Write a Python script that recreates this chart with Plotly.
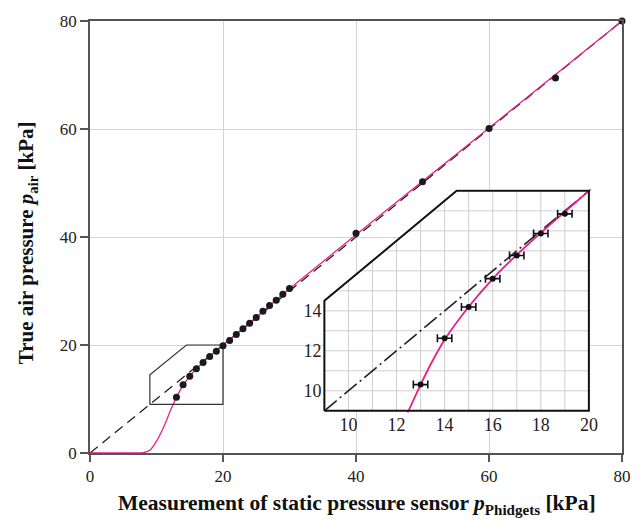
import plotly.graph_objects as go

# ---- data ----
meas_x = [13, 14, 15, 16, 17, 18, 19, 20, 21, 22, 23, 24, 25, 26, 27, 28, 29, 30, 40, 50, 60, 70, 80]
true_y = [10.31, 12.63, 14.19, 15.61, 16.77, 17.87, 18.85, 19.85, 20.85, 21.95, 23.0, 24.05,
          25.1, 26.25, 27.3, 28.3, 29.4, 30.45, 40.7, 50.25, 60.1, 69.45, 80.0]

inset_x = [13, 14, 15, 16, 17, 18, 19]
inset_y = [10.31, 12.63, 14.19, 15.61, 16.77, 17.87, 18.85]
inset_err = [0.3, 0.3, 0.3, 0.3, 0.3, 0.3, 0.3]

fit_x = [0, 7, 8, 9, 10, 11, 11.5, 12, 12.5, 13, 13.5, 14, 15, 16, 17, 18, 19, 20,
         22, 25, 30, 40, 50, 60, 70, 80]
fit_y = [0, 0, 0.05, 0.5, 2.2, 4.6, 6.0, 7.6, 9.0, 10.3, 11.5, 12.55, 14.2, 15.6, 16.8,
         17.9, 18.95, 20.0, 22.05, 25.15, 30.4, 40.4, 50.3, 60.2, 70.1, 80.0]

ident = [0, 80]
inset_ident = [9, 20]

# zoom window polygon (shared by main chart marker and inset frame)
poly_x = [9, 9, 14.5, 20, 20, 9]
poly_y = [9, 14.5, 20, 20, 9, 9]

main_ticks = [0, 20, 40, 60, 80]
inset_xticks = [10, 12, 14, 16, 18, 20]
inset_yticks = [10, 12, 14]
inset_grid = list(range(10, 20))

PINK = "#e5208a"
FONT = "Liberation Serif"

fig = go.Figure()

# ---- main panel ----
fig.add_trace(go.Scatter(x=ident, y=ident, mode="lines",
                         line=dict(color="#222", width=1.3, dash="10px,6px"),
                         hoverinfo="skip", showlegend=False))
fig.add_trace(go.Scatter(x=fit_x, y=fit_y, mode="lines", line_shape="spline",
                         line=dict(color=PINK, width=1.3, smoothing=0.6),
                         hoverinfo="skip", showlegend=False))
fig.add_trace(go.Scatter(x=poly_x, y=poly_y, mode="lines",
                         line=dict(color="#333", width=1.2),
                         hoverinfo="skip", showlegend=False))
fig.add_trace(go.Scatter(x=meas_x, y=true_y, mode="markers", cliponaxis=False,
                         marker=dict(color="#1a1a1a", size=7),
                         showlegend=False))

# ---- inset ----
fig.add_trace(go.Scatter(x=poly_x, y=poly_y, mode="lines", fill="toself",
                         fillcolor="white", line=dict(width=0, color="white"),
                         xaxis="x2", yaxis="y2", hoverinfo="skip", showlegend=False))
cut = poly_y[1] - poly_x[1]
gx, gy = [], []
for v in inset_grid:
    gx += [v, v, None]
    gy += [poly_y[0], min(poly_y[2], v + cut), None]
for h in inset_grid:
    gx += [max(poly_x[0], h - cut), poly_x[3], None]
    gy += [h, h, None]
fig.add_trace(go.Scatter(x=gx, y=gy, mode="lines", line=dict(color="#cfcfcf", width=1),
                         xaxis="x2", yaxis="y2", hoverinfo="skip", showlegend=False))
fig.add_trace(go.Scatter(x=inset_ident, y=inset_ident, mode="lines",
                         line=dict(color="#222", width=1.6, dash="16px,4px,2px,4px"),
                         xaxis="x2", yaxis="y2", hoverinfo="skip", showlegend=False))
fig.add_trace(go.Scatter(x=fit_x, y=fit_y, mode="lines", line_shape="spline",
                         line=dict(color=PINK, width=1.8, smoothing=0.8),
                         xaxis="x2", yaxis="y2", hoverinfo="skip", showlegend=False))
fig.add_trace(go.Scatter(x=inset_x, y=inset_y, mode="markers",
                         marker=dict(color="#111", size=6),
                         error_x=dict(type="data", array=inset_err, color="#111",
                                      thickness=1.6, width=4),
                         xaxis="x2", yaxis="y2", showlegend=False))
fig.add_trace(go.Scatter(x=poly_x, y=poly_y, mode="lines",
                         line=dict(color="#111", width=2),
                         xaxis="x2", yaxis="y2", hoverinfo="skip", showlegend=False))

W, H = 643, 521
L, R, T, B = 90, 18, 13, 68
pw, ph = W - L - R, H - T - B

def px_x(p):
    return (p - L) / pw

def px_y(p):
    return (H - B - p) / ph

# inset frame in pixels, range padded slightly so the frame line is not clipped
IX0, IX1, IY0, IY1 = 325.7, 591.7, 410, 186
PAD = 0.08
sx = (IX1 - IX0) / 11.0
sy = (IY0 - IY1) / 11.0

tickfont = dict(family=FONT, size=17, color="#222")
insetfont = dict(family=FONT, size=18, color="#222")

fig.update_layout(
    width=W, height=H,
    margin=dict(l=L, r=R, t=T, b=B),
    paper_bgcolor="white", plot_bgcolor="rgba(0,0,0,0)",
    showlegend=False,
    xaxis=dict(range=[0, 80], domain=[0, 1], tickvals=main_ticks,
               showgrid=True, gridcolor="#d4d4d4", gridwidth=1, zeroline=False,
               showline=True, linecolor="#555", linewidth=1.5, mirror=True,
               ticks="outside", ticklen=7, tickcolor="#555", tickwidth=1.5,
               tickfont=tickfont),
    yaxis=dict(range=[0, 80], domain=[0, 1], tickvals=main_ticks,
               showgrid=True, gridcolor="#d4d4d4", gridwidth=1, zeroline=False,
               showline=True, linecolor="#555", linewidth=1.5, mirror=True,
               ticks="outside", ticklen=8, tickcolor="#555", tickwidth=1.5,
               tickfont=tickfont),
    xaxis2=dict(range=[9 - PAD, 20 + PAD],
                domain=[px_x(IX0 - PAD * sx), px_x(IX1 + PAD * sx)], anchor="y2",
                tickvals=inset_xticks, showgrid=False, zeroline=False,
                showline=False, ticks="", tickfont=insetfont),
    yaxis2=dict(range=[9 - PAD, 20 + PAD],
                domain=[px_y(IY0 + PAD * sy), px_y(IY1 - PAD * sy)], anchor="x2",
                tickvals=inset_yticks, showgrid=False, zeroline=False,
                showline=False, ticks="", tickfont=insetfont),
    annotations=[
        dict(text="<b>Measurement of static pressure sensor <i>p</i><sub>Phidgets</sub> [kPa]</b>",
             xref="paper", yref="paper", x=px_x(359), y=px_y(505),
             xanchor="center", yanchor="middle", showarrow=False,
             font=dict(family=FONT, size=21.5, color="#111")),
        dict(text="<b>True air pressure <i>p</i><sub>air</sub> [kPa]</b>",
             xref="paper", yref="paper", x=px_x(27), y=px_y(239),
             xanchor="center", yanchor="middle", showarrow=False, textangle=-90,
             font=dict(family=FONT, size=21, color="#111")),
    ],
)

fig.write_html("out.html")
